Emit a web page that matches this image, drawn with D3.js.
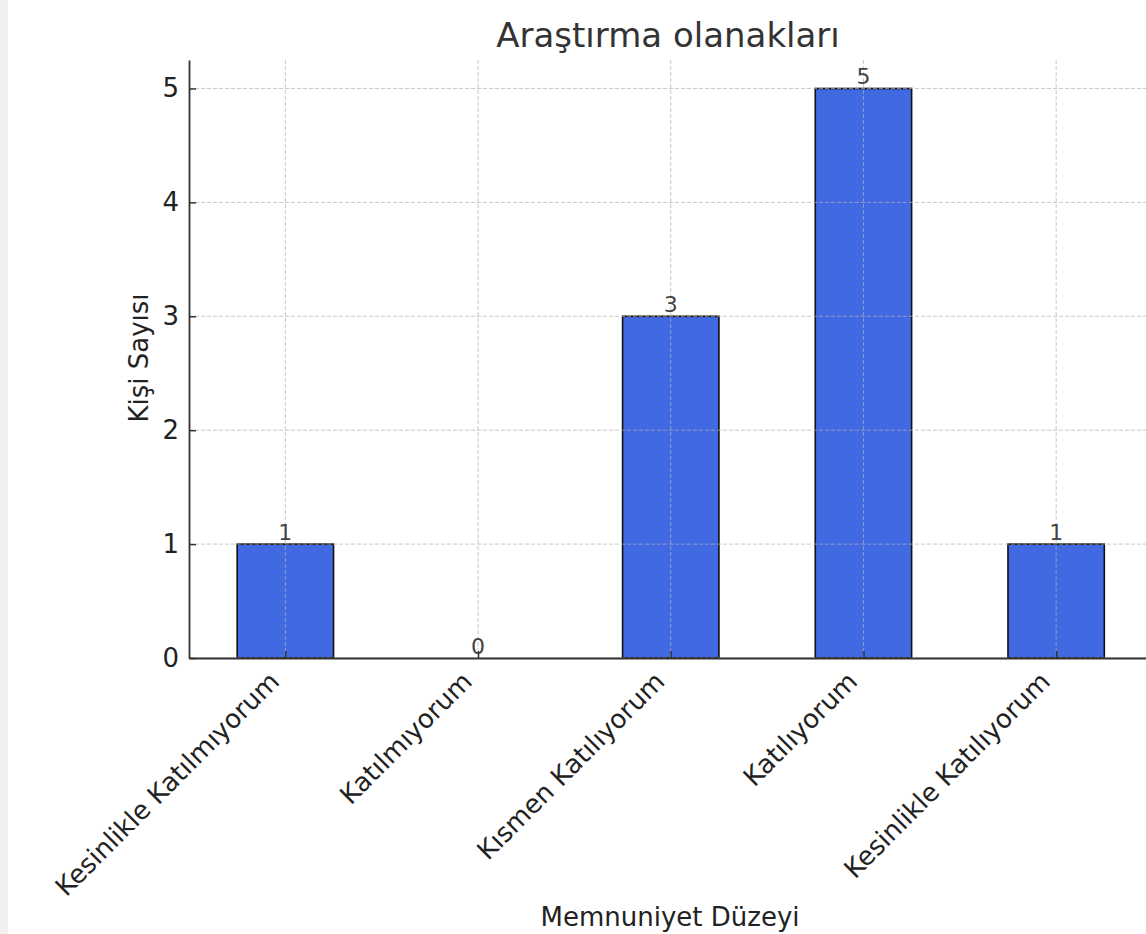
<!DOCTYPE html>
<html>
<head>
<meta charset="utf-8">
<script src="https://cdn.jsdelivr.net/npm/d3@7"></script>
<style>
  html, body { margin: 0; padding: 0; background: #fff; }
  svg { display: block; }
  text { font-family: "DejaVu Sans", sans-serif; }
</style>
</head>
<body>
<script>
const categories = ["Kesinlikle Katılmıyorum", "Katılmıyorum", "Kısmen Katılıyorum", "Katılıyorum", "Kesinlikle Katılıyorum"];
const values = [1, 0, 3, 5, 1];
const yTicks = [0, 1, 2, 3, 4, 5];
const title = "Araştırma olanakları";
const xLabel = "Memnuniyet Düzeyi";
const yLabel = "Kişi Sayısı";

(function () {
const W = 1146, H = 934;
const svg = d3.select("body").append("svg").attr("width", W).attr("height", H);

// left gray strip
svg.append("rect").attr("x", 0).attr("y", 0).attr("width", 8).attr("height", H).attr("fill", "#f0f0f0");

const mLeft = 189, mTop = 60, mBottom = 658, step = 192.7;
const x = d3.scaleLinear().domain([-0.5, categories.length - 0.5]).range([mLeft, mLeft + step * categories.length]);
const y = d3.scaleLinear().domain([0, 5.25]).range([mBottom, mTop]);
const barW = step * 0.5;

// bars
svg.append("g").selectAll("rect").data(values).join("rect")
  .attr("x", (d, i) => x(i) - barW / 2)
  .attr("y", d => y(d))
  .attr("width", barW)
  .attr("height", d => y(0) - y(d))
  .attr("fill", "#4169E1")
  .attr("stroke", "#111")
  .attr("stroke-width", 1.6);

// grid (drawn on top)
const grid = svg.append("g").attr("stroke", "#b0b0b0").attr("stroke-opacity", 0.7)
  .attr("stroke-width", 1).attr("stroke-dasharray", "4,2");
grid.selectAll("line.h").data(yTicks).join("line").attr("class", "h")
  .attr("x1", mLeft).attr("x2", W).attr("y1", d => y(d)).attr("y2", d => y(d));
grid.selectAll("line.v").data(categories).join("line").attr("class", "v")
  .attr("x1", (d, i) => x(i)).attr("x2", (d, i) => x(i)).attr("y1", mTop).attr("y2", mBottom);

// y axis
const yAxis = d3.axisLeft(y).tickValues(yTicks).tickFormat(d3.format("d"))
  .tickSizeInner(-7).tickSizeOuter(0).tickPadding(10);
const gy = svg.append("g").attr("transform", `translate(${mLeft},0)`).call(yAxis);
gy.select(".domain").attr("stroke", "#333").attr("stroke-width", 1.8);
gy.selectAll(".tick line").attr("stroke", "#333").attr("stroke-width", 1.5);
gy.selectAll(".tick text").attr("font-size", 26).attr("fill", "#222").attr("font-family", "DejaVu Sans");

// x axis
const xAxis = d3.axisBottom(x).tickValues(d3.range(categories.length)).tickFormat(i => categories[i])
  .tickSizeInner(-7).tickSizeOuter(0).tickPadding(0);
const gx = svg.append("g").attr("transform", `translate(0,${mBottom})`).call(xAxis);
gx.select(".domain").attr("stroke", "#333").attr("stroke-width", 1.8);
gx.selectAll(".tick line").attr("stroke", "#333").attr("stroke-width", 1.5);
gx.selectAll(".tick text")
  .attr("font-size", 26).attr("fill", "#222").attr("font-family", "DejaVu Sans")
  .attr("text-anchor", "end")
  .attr("y", 0)
  .attr("dy", "0")
  .attr("transform", "translate(-5,25) rotate(-45)");

// bar value labels
svg.append("g").selectAll("text").data(values).join("text")
  .attr("x", (d, i) => x(i))
  .attr("y", d => y(d) - 4)
  .attr("text-anchor", "middle")
  .attr("font-size", 22)
  .attr("fill", "#444")
  .text(d => d);

// title
svg.append("text").attr("x", 668).attr("y", 47).attr("text-anchor", "middle")
  .attr("font-size", 34).attr("fill", "#333").text(title);

// x label
svg.append("text").attr("x", 670).attr("y", 926).attr("text-anchor", "middle")
  .attr("font-size", 26).attr("fill", "#222").text(xLabel);

// y label
svg.append("text").attr("transform", "translate(148,358) rotate(-90)").attr("text-anchor", "middle")
  .attr("font-size", 26).attr("fill", "#222").text(yLabel);
})();
</script>
</body>
</html>
